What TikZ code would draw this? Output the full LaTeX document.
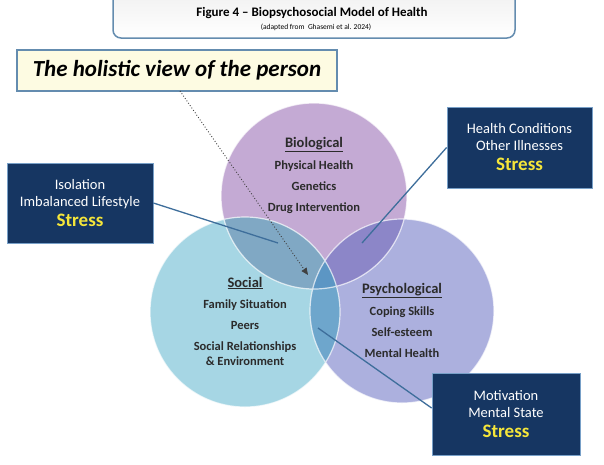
\documentclass[tikz,border=0pt]{standalone}
\usepackage{fontspec}
\setmainfont{Carlito}
\usetikzlibrary{arrows.meta,shadings}
\definecolor{bioC}{RGB}{196,170,212}
\definecolor{socC}{RGB}{166,214,228}
\definecolor{psyC}{RGB}{172,176,222}
\definecolor{bsC}{RGB}{128,168,196}
\definecolor{bpC}{RGB}{140,134,200}
\definecolor{spC}{RGB}{110,166,204}
\definecolor{allC}{RGB}{92,150,196}
\definecolor{navy}{RGB}{22,54,98}
\definecolor{navyedge}{RGB}{120,160,200}
\definecolor{linkC}{RGB}{62,110,155}
\definecolor{titleedge}{RGB}{100,140,175}
\definecolor{creamC}{RGB}{253,251,226}
\definecolor{txtC}{RGB}{43,43,43}
\definecolor{stressC}{RGB}{245,230,58}
\tikzset{
  darkbox/.style={draw=navyedge, line width=0.8pt, fill=navy, text=white, align=center, inner sep=0pt, font=\fontsize{14.5}{17}\selectfont},
  circtext/.style={text=txtC, align=center, font=\bfseries\fontsize{12.5}{21}\selectfont},
  link/.style={draw=linkC, line width=1.3pt}
}
\newcommand{\stressword}{{\color{stressC}\bfseries\fontsize{19}{20}\selectfont Stress}}
\newcommand{\headword}[1]{{\fontsize{14.5}{16}\selectfont\underline{#1}}}
\begin{document}
\begin{tikzpicture}[x=1pt,y=-1pt]
\useasboundingbox (0,0) rectangle (604,464);
\fill[white] (0,0) rectangle (604,464);
% title box
\shade[top color=gray!12, bottom color=white, rounded corners=8pt] (113,-12) rectangle (515,38);
\draw[titleedge, line width=1.5pt, rounded corners=8pt] (113,-12) rectangle (515,38);
\node (title) at (312,13) {\bfseries\fontsize{13}{14}\selectfont Figure 4 -- Biopsychosocial Model of Health};
\node (subtitle) at (316,27.5) {\fontsize{7.5}{8}\selectfont (adapted from \ Ghasemi et al. 2024)};
% circles
\coordinate (cb) at (314,196);
\coordinate (cs) at (245,312);
\coordinate (cp) at (402,311);
\def\rb{93}\def\rs{95}\def\rp{92}
\fill[bioC] (cb) circle[radius=\rb];
\fill[socC] (cs) circle[radius=\rs];
\fill[psyC] (cp) circle[radius=\rp];
\begin{scope}
  \clip (cb) circle[radius=\rb];
  \fill[bsC] (cs) circle[radius=\rs];
  \fill[bpC] (cp) circle[radius=\rp];
\end{scope}
\begin{scope}
  \clip (cs) circle[radius=\rs];
  \fill[spC] (cp) circle[radius=\rp];
  \clip (cp) circle[radius=\rp];
  \fill[allC] (cb) circle[radius=\rb];
\end{scope}
\draw[white, line width=1.2pt, opacity=0.7] (cb) circle[radius=\rb] (cs) circle[radius=\rs] (cp) circle[radius=\rp];
% circle texts
\node[circtext] (biotxt) at (314,175) {\headword{Biological}\\[1pt] Physical Health\\ Genetics\\ Drug Intervention};
\node[circtext] (soctxt) at (245,321) {\headword{Social}\\[0pt] Family Situation\\ Peers\\ Social Relationships\\[-6pt] \& Environment};
\node[circtext] (psytxt) at (402,320) {\headword{Psychological}\\[1pt] Coping Skills\\ Self-esteem\\ Mental Health};
% holistic box
\node[draw=titleedge, line width=1.2pt, fill=creamC, minimum width=320pt, minimum height=41pt, inner sep=0pt] (holistic) at (177,70.5) {\bfseries\itshape\fontsize{23}{25}\selectfont The holistic view of the person};
\coordinate (centre) at (308,275);
\draw[black!75, dotted, line width=0.9pt, -{Triangle[length=7pt,width=6pt]}] (180,91) -- (centre);
% dark boxes
\node[darkbox, minimum width=146pt, minimum height=80pt] (lbox) at (80,203) {Isolation\\ Imbalanced Lifestyle\\[3pt] \stressword};
\node[darkbox, minimum width=145pt, minimum height=81pt] (rbox) at (519.5,147.5) {Health Conditions\\ Other Illnesses\\[3pt] \stressword};
\node[darkbox, minimum width=148pt, minimum height=82pt] (brbox) at (506,414) {Motivation\\ Mental State\\[3pt] \stressword};
% connectors
\coordinate (bsend) at (278,243);
\coordinate (bpend) at (362,243);
\coordinate (spend) at (318,328);
\draw[link] (lbox.east) -- (bsend);
\draw[link] (rbox.west) -- (bpend);
\draw[link] ([yshift=6pt]brbox.west) -- (spend);
\end{tikzpicture}
\end{document}
